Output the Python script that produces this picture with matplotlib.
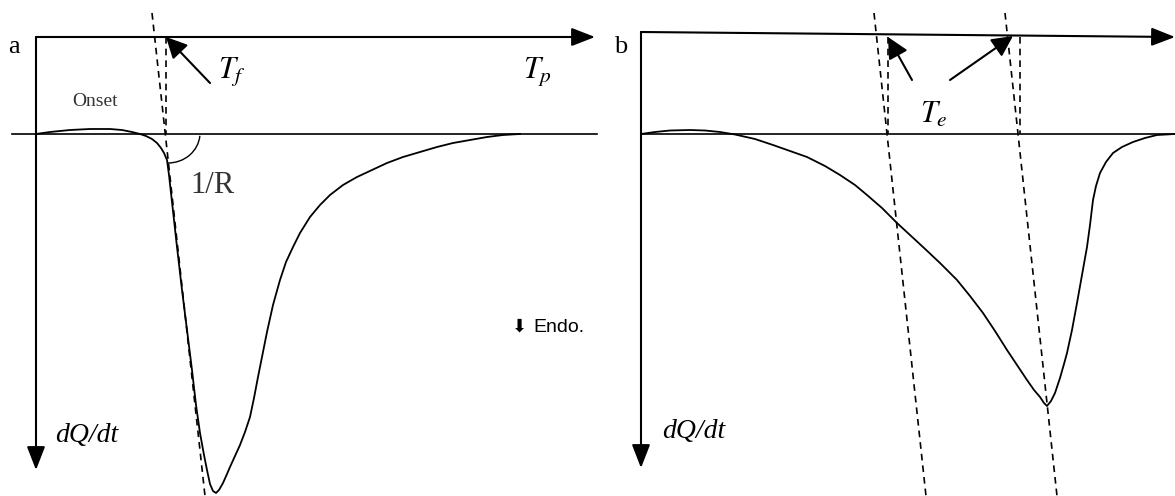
import matplotlib
matplotlib.use("Agg")
import matplotlib.pyplot as plt
from matplotlib.patches import Arc

plt.rcParams["mathtext.fontset"] = "stix"

# DSC trace, panel a (pixel-like units: x = temperature, y = heat flow, down = endo)
curve_a_x = [36, 50, 70, 90, 110, 122, 132, 140, 146, 152, 157, 161, 164, 167, 169, 171, 174,
             177, 182, 187, 192, 196, 200, 204, 207, 210, 213, 216, 219, 223, 227, 230, 235,
             240, 245, 250, 254, 258, 263, 267, 273, 280, 286, 293, 300, 310, 320, 330, 343,
             357, 372, 387, 403, 420, 437, 453, 470, 487, 503, 520]
curve_a_y = [134, 132, 130, 129, 129, 130, 132, 134, 136, 139, 143, 148, 153, 160, 175, 193, 220,
             247, 290, 330, 370, 405, 433, 455, 470, 484, 491, 493, 490, 483, 474, 467, 456,
             445, 432, 417, 398, 377, 352, 332, 305, 280, 262, 247, 233, 217, 205, 195, 185,
             177, 170, 163, 157, 152, 147, 143, 140, 137, 135, 134]

# DSC trace, panel b
curve_b_x = [641, 655, 670, 690, 705, 720, 735, 755, 773, 790, 807, 825, 840, 855, 867, 882,
             897, 910, 923, 940, 957, 970, 983, 995, 1007, 1017, 1027, 1034, 1040, 1044, 1047,
             1051, 1055, 1060, 1064, 1067, 1072, 1077, 1082, 1087, 1090, 1093, 1096, 1100,
             1106, 1113, 1122, 1133, 1145, 1157, 1175]
curve_b_y = [134, 132, 130.5, 130, 130.5, 132, 134.5, 139, 145, 151, 157, 166, 175, 185, 195, 208,
             223, 235, 247, 263, 280, 296, 313, 331, 350, 365, 380, 390, 397, 403, 406,
             401, 393, 378, 364, 353, 330, 303, 275, 247, 225, 200, 186, 173,
             162, 153, 147, 142, 138, 135, 134]

baseline_y = 134

# tangent / construction lines: (x0, y0, x1, y1)
dashed_a = [(152, 13, 205, 496), (166, 37, 166, 134)]
dashed_b = [(874, 13, 926, 496), (888, 37, 888, 134), (1005, 13, 1057, 496), (1020, 37, 1020, 134)]

fig = plt.figure(figsize=(11.75, 4.96), dpi=100)
ax = fig.add_axes([0, 0, 1, 1])
ax.set_xlim(0, 1175)
ax.set_ylim(496, 0)
ax.axis("off")

k = "black"
arrow_kw = dict(arrowstyle="-|>,head_length=0.9,head_width=0.35", color=k, lw=1.5,
                mutation_scale=16, shrinkA=0, shrinkB=0)
pointer_kw = dict(arrowstyle="-|>,head_length=0.8,head_width=0.4", color=k,
                  lw=1.5, mutation_scale=16, shrinkA=0, shrinkB=0)

# panel a
ax.annotate("", xy=(595, 37), xytext=(36, 37), arrowprops=arrow_kw)
ax.annotate("", xy=(36, 470), xytext=(36, 37), arrowprops=arrow_kw)
ax.plot([12, 597], [baseline_y, baseline_y], color=k, lw=1.2)
ax.plot(curve_a_x, curve_a_y, color=k, lw=1.3, solid_joinstyle="round")
for x0, y0, x1, y1 in dashed_a:
    ax.plot([x0, x1], [y0, y1], color=k, lw=1.2, ls=(0, (4, 3)))
ax.add_patch(Arc((168, 133), 64, 60, theta1=5, theta2=90, color=k, lw=1.0))
ax.annotate("", xy=(166, 37), xytext=(210, 83), arrowprops=pointer_kw)

# panel b
ax.annotate("", xy=(1175, 37), xytext=(641, 32), arrowprops=arrow_kw)
ax.annotate("", xy=(641, 468), xytext=(641, 32), arrowprops=arrow_kw)
ax.plot([641, 1175], [baseline_y, baseline_y], color=k, lw=1.2)
ax.plot(curve_b_x, curve_b_y, color=k, lw=1.3, solid_joinstyle="round")
for x0, y0, x1, y1 in dashed_b:
    ax.plot([x0, x1], [y0, y1], color=k, lw=1.2, ls=(0, (4, 3)))
ax.annotate("", xy=(888, 37), xytext=(912, 80), arrowprops=pointer_kw)
ax.annotate("", xy=(1013, 36), xytext=(950, 80), arrowprops=pointer_kw)

# labels
serif = "Liberation Serif"
ax.text(8, 53, "a", fontsize=19, family=serif, va="baseline")
ax.text(614, 53, "b", fontsize=19, family=serif, va="baseline")
ax.text(72, 106, "Onset", fontsize=14, family=serif, va="baseline", color="#333333")
ax.text(190, 193, "1/R", fontsize=22, family=serif, va="baseline", color="#333333")
ax.text(218, 78, r"$T_f$", fontsize=22, va="baseline")
ax.text(523, 78, r"$T_p$", fontsize=22, va="baseline")
ax.text(920, 123, r"$T_e$", fontsize=22, va="baseline")
ax.text(55, 442, "dQ/dt", fontsize=20, family=serif, style="italic", va="baseline")
ax.text(662, 438, "dQ/dt", fontsize=20, family=serif, style="italic", va="baseline")
ax.text(512, 332, "\u2b07", fontsize=13, family="DejaVu Sans", va="baseline")
ax.text(533, 332, "Endo.", fontsize=14, family="Liberation Sans", va="baseline")

fig.savefig("out.png", dpi=100)
